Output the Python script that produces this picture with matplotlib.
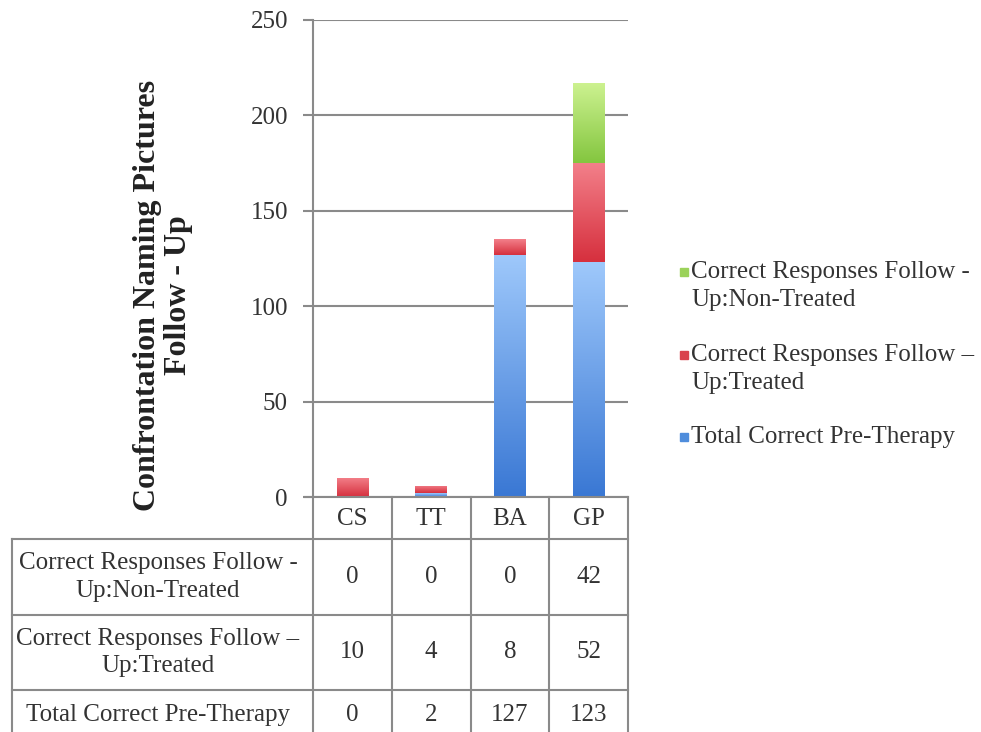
import numpy as np
import matplotlib
matplotlib.use("Agg")
import matplotlib.pyplot as plt
from matplotlib.colors import to_rgb
from matplotlib.patches import Rectangle
from matplotlib.lines import Line2D

# ---- data ----
patients = ["CS", "TT", "BA", "GP"]
series_names = [
    "Correct Responses Follow -\nUp:Non-Treated",
    "Correct Responses Follow \u2013\nUp:Treated",
    "Total Correct Pre-Therapy",
]
pre_therapy = [0, 2, 127, 123]
followup_treated = [10, 4, 8, 52]
followup_nontreated = [0, 0, 0, 42]
y_ticks = [0, 50, 100, 150, 200, 250]
y_label = "Confrontation Naming Pictures\nFollow - Up"

# gradient colours (top, bottom) and legend swatch per series
grad_blue = ("#9ec8fb", "#3a78d4")
grad_red = ("#f3808a", "#d6303e")
grad_green = ("#cdf290", "#84c640")
swatch = {"blue": "#4f8ddc", "red": "#d9434d", "green": "#9bd25a"}

FONT = "Liberation Serif"
FS = 18
GRID = "#8a8a8a"
TXT = "#333333"

W, H = 981, 732
fig = plt.figure(figsize=(W / 100, H / 100), dpi=100)


def fx(px):
    return px / W


def fy(py):
    return 1 - py / H


# plot area in pixels
x_left, x_right = 313, 628
y_top, y_zero = 20, 497
ax = fig.add_axes([fx(x_left), fy(y_zero), fx(x_right - x_left), (y_zero - y_top) / H])
ax.set_xlim(0, len(patients))
ax.set_ylim(0, 250)


def gradient_segment(ax, patch, top, bottom):
    x0, y0 = patch.get_x(), patch.get_y()
    w, h = patch.get_width(), patch.get_height()
    if h <= 0:
        return
    c_top, c_bot = np.array(to_rgb(top)), np.array(to_rgb(bottom))
    t = np.linspace(0, 1, 64)[:, None]
    img = (c_top * (1 - t) + c_bot * t)[:, None, :]
    im = ax.imshow(img, extent=[x0, x0 + w, y0, y0 + h], aspect="auto",
                   origin="upper", zorder=3, interpolation="bilinear")
    im.set_clip_path(patch)


xs = np.arange(len(patients)) + 0.5
bw = 0.4
b1 = ax.bar(xs, pre_therapy, bw, color="none", edgecolor="none", zorder=3)
b2 = ax.bar(xs, followup_treated, bw, bottom=pre_therapy, color="none",
            edgecolor="none", zorder=3)
bottom3 = np.array(pre_therapy) + np.array(followup_treated)
b3 = ax.bar(xs, followup_nontreated, bw, bottom=bottom3, color="none",
            edgecolor="none", zorder=3)
for bars, g in ((b1, grad_blue), (b2, grad_red), (b3, grad_green)):
    for p in bars:
        gradient_segment(ax, p, *g)

ax.set_yticks(y_ticks)
ax.set_yticklabels([str(v) for v in y_ticks], fontfamily=FONT, fontsize=FS, color=TXT)
ax.yaxis.grid(True, color=GRID, linewidth=1.5, zorder=0)
ax.set_axisbelow(True)
ax.tick_params(axis="y", length=7, width=1.5, color=GRID, pad=11)
ax.tick_params(axis="x", length=0, labelbottom=False)
ax.set_xticks([])
for s in ("top", "right", "bottom"):
    ax.spines[s].set_visible(False)
ax.spines["left"].set_color(GRID)
ax.spines["left"].set_linewidth(1.5)

fig.text(fx(163), fy(295), y_label, rotation=90, ha="center", va="center",
         fontfamily=FONT, fontsize=23, fontweight="bold", color="#222222",
         linespacing=1.1)

# ---- data table below the axes ----
col_edges = np.linspace(x_left, x_right, len(patients) + 1)
row_edges = [y_zero, 539, 615, 690, 732]
label_left = 12


def hline(x0, x1, y):
    fig.add_artist(Line2D([fx(x0), fx(x1)], [fy(y), fy(y)], color=GRID, lw=1.5))


def vline(x, y0, y1):
    fig.add_artist(Line2D([fx(x), fx(x)], [fy(y0), fy(y1)], color=GRID, lw=1.5))


hline(305, x_right, row_edges[0])
for y in row_edges[1:4]:
    hline(label_left, x_right, y)
for x in col_edges:
    vline(x, row_edges[0], row_edges[4])
vline(label_left, row_edges[1], row_edges[4])

for i, name in enumerate(patients):
    cx = (col_edges[i] + col_edges[i + 1]) / 2
    fig.text(fx(cx), fy((row_edges[0] + row_edges[1]) / 2 + 1), name, ha="center",
             va="center", fontfamily=FONT, fontsize=FS, color=TXT)

table_rows = [followup_nontreated, followup_treated, pre_therapy]
for r, (name, vals) in enumerate(zip(series_names, table_rows)):
    cy = (row_edges[r + 1] + row_edges[r + 2]) / 2
    if r == 2:
        cy = row_edges[3] + 25
    fig.text(fx(158), fy(cy), name, ha="center", va="center", fontfamily=FONT,
             fontsize=FS, color=TXT, linespacing=1.35)
    for i, v in enumerate(vals):
        cx = (col_edges[i] + col_edges[i + 1]) / 2
        fig.text(fx(cx), fy(cy), str(v), ha="center", va="center",
                 fontfamily=FONT, fontsize=FS, color=TXT)

# ---- legend ----
legend_items = [
    (series_names[0], swatch["green"], 272, 286),
    (series_names[1], swatch["red"], 355, 369),
    (series_names[2], swatch["blue"], 437, 437),
]
for text, col, sy, ty in legend_items:
    fig.add_artist(Rectangle((fx(680), fy(sy + 4)), fx(8), 8 / H, color=col,
                             transform=fig.transFigure))
    fig.text(fx(691), fy(ty), text, ha="left", va="center", fontfamily=FONT,
             fontsize=FS, color=TXT, linespacing=1.3)

fig.savefig("out.png", dpi=100, facecolor="white")
